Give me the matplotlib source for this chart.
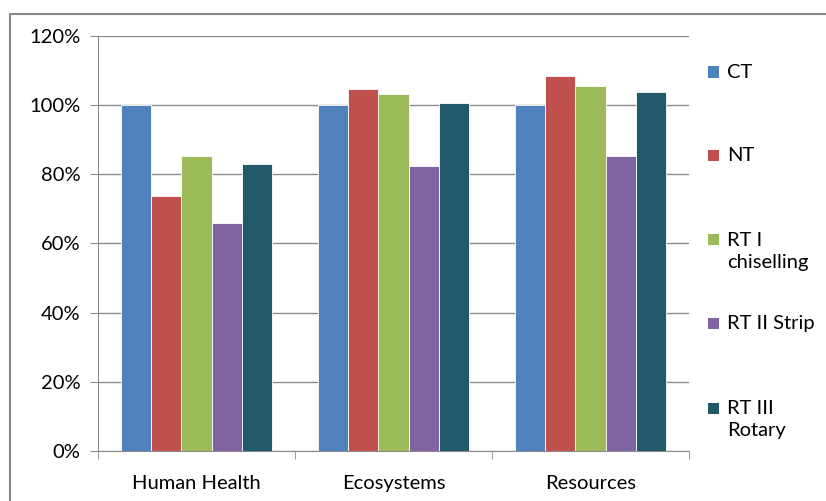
import numpy as np
import matplotlib.pyplot as plt
from matplotlib.patches import Rectangle
from matplotlib.ticker import FuncFormatter

plt.rcParams['font.family'] = ['Lato', 'DejaVu Sans']

categories = ['Human Health', 'Ecosystems', 'Resources']
series = ['CT', 'NT', 'RT I\nchiselling', 'RT II Strip', 'RT III\nRotary']
colors = ['#4F81BD', '#C0504D', '#9BBB59', '#8064A2', '#215968']
values = [
    [1.00, 1.00, 1.00],    # CT
    [0.738, 1.047, 1.084], # NT
    [0.853, 1.032, 1.055], # RT I chiselling
    [0.658, 0.824, 0.853], # RT II Strip
    [0.830, 1.006, 1.038], # RT III Rotary
]
# legend row centres (first line), pixels from top
leg_y = [72, 155, 240, 323, 408]

W, H = 826, 501
fig = plt.figure(figsize=(W/100, H/100), dpi=100)
ax = fig.add_axes([98/W, 50/H, 591/W, 415/H])

# chart frame
fig.patches.append(Rectangle((10/W, -0.1), 1.0, (H-14)/H + 0.1,
                             transform=fig.transFigure, fill=False,
                             edgecolor='#888888', lw=1.5, zorder=0))

x = np.arange(len(categories))
w = 1/6.5
for i, (lab, col, vals) in enumerate(zip(series, colors, values)):
    ax.bar(x + (i-2)*w, vals, w, color=col, edgecolor='white', lw=0.6,
           label=lab, zorder=3)

ax.set_xlim(-0.5, 2.5)
ax.set_ylim(0, 1.2)
ax.set_yticks(np.arange(0, 1.21, 0.2))
ax.yaxis.set_major_formatter(FuncFormatter(lambda v, p: '%d%%' % round(v*100)))
ax.yaxis.grid(True, color='#8c8c8c', lw=1, zorder=0)
ax.set_xticks(x)
ax.set_xticklabels(categories)
ax.set_xticks([-0.5, 0.5, 1.5, 2.5], minor=True)
ax.tick_params(axis='x', which='major', length=0, pad=17, labelsize=14.5)
ax.tick_params(axis='x', which='minor', length=5.5, color='#8c8c8c')
ax.tick_params(axis='y', length=5.8, color='#8c8c8c', labelsize=14.5, pad=7)
for s in ['top', 'right']:
    ax.spines[s].set_visible(False)
for s in ['left', 'bottom']:
    ax.spines[s].set_color('#8c8c8c')

# legend, Excel style: square aligned with the first text line
for lab, col, yc in zip(series, colors, leg_y):
    fig.patches.append(Rectangle((708/W, 1 - (yc + 5.5)/H), 11/W, 11/H,
                                 transform=fig.transFigure, facecolor=col,
                                 edgecolor='none'))
    fig.text(727/W, 1 - (yc - 8)/H, lab, fontsize=14.5, va='top', ha='left',
             linespacing=1.35)

fig.savefig('out.png', dpi=100)
